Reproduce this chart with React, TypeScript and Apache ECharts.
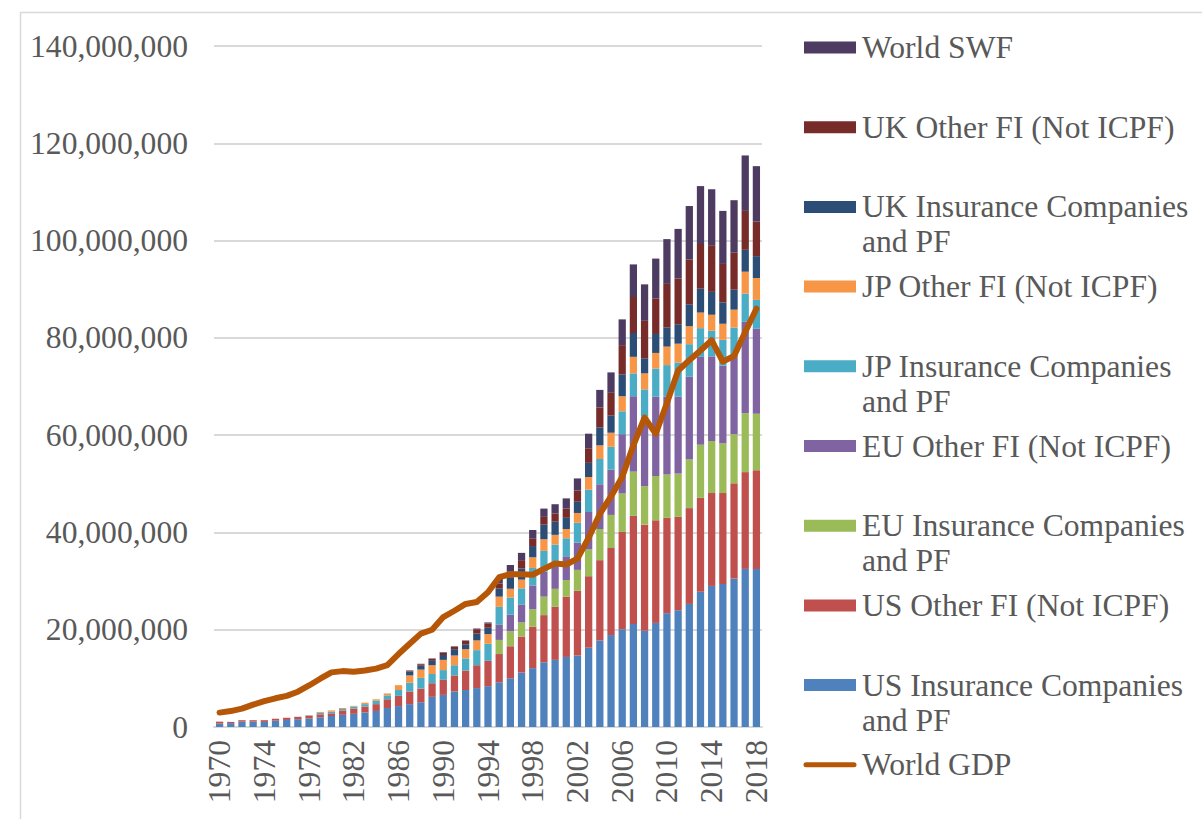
import React, { useEffect, useRef } from "react";
import * as echarts from "echarts";

const years = [
  "1970","1971","1972","1973","1974","1975","1976","1977","1978","1979",
  "1980","1981","1982","1983","1984","1985","1986","1987","1988","1989",
  "1990","1991","1992","1993","1994","1995","1996","1997","1998","1999",
  "2000","2001","2002","2003","2004","2005","2006","2007","2008","2009",
  "2010","2011","2012","2013","2014","2015","2016","2017","2018",
];

// values in millions (axis shows the full number)
const usIns = [0.7,0.8,1.1,1.1,1.05,1.3,1.45,1.6,1.75,2.0, 2.26,2.5,2.7,3.0,3.3,3.9,4.3,4.7,5.1,6.2, 6.6,7.3,7.6,8.0,8.4,9.2,10.0,11.2,12.1,13.3, 13.8,14.4,14.7,16.3,17.8,18.9,20.1,21.2,19.8,21.4, 23.4,24.0,25.3,27.8,29.0,29.4,30.5,32.5,32.5];
const usOther = [0.4,0.25,0.3,0.3,0.35,0.4,0.45,0.5,0.55,0.6, 0.55,0.86,1.07,1.2,1.4,1.8,2.1,2.6,2.8,2.8, 3.1,3.3,4.0,4.7,5.2,5.8,6.6,7.4,8.5,9.7, 10.9,12.4,13.3,14.7,16.5,17.9,20.0,22.2,21.8,21.1, 19.6,19.2,19.7,19.3,19.1,18.7,19.6,19.9,20.3];
const euIns = [0,0,0,0,0,0,0,0,0,0, 0,0,0,0,0,0,0,0,0,0, 0,0,0,0,0,2.9,3.1,2.9,3.6,3.8, 3.7,3.4,4.3,5.5,6.4,6.8,7.9,9.1,7.9,9.1, 8.9,8.9,10.0,10.9,10.7,10.2,10.1,12.1,11.6];
const euOther = [0,0,0,0,0,0,0,0,0,0, 0,0,0,0,0,0,0,0,0,0, 0,0,0,0,0,3.1,3.4,3.7,4.9,5.1, 5.5,4.9,5.6,7.7,9.2,9.3,12.2,15.5,14.3,16.3, 16.0,15.8,17.0,18.1,17.4,16.0,16.4,18.8,17.5];
const jpIns = [0,0,0,0,0,0,0,0,0.1,0.3, 0.35,0.34,0.43,0.5,0.7,0.8,1.2,1.8,2.2,1.9, 2.0,2.1,2.5,3.1,3.5,3.7,3.5,3.3,3.6,4.3, 3.6,3.7,4.1,4.6,5.2,4.7,4.7,4.7,5.6,5.8, 6.5,7.0,6.7,5.9,5.25,5.3,5.5,5.8,5.9];
const jpOther = [0,0,0,0,0,0,0,0,0.05,0.2, 0.25,0.2,0.15,0.3,0.3,0.4,1.0,1.5,1.7,1.8, 2.1,2.0,1.9,2.0,2.0,2.1,1.8,1.8,2.2,2.4, 2.0,1.9,2.0,2.6,2.8,2.9,3.1,3.4,3.3,3.2, 3.8,3.9,3.7,3.2,3.3,3.3,3.7,4.5,4.5];
const ukIns = [0,0,0,0,0,0,0,0,0,0, 0,0,0,0,0,0,0,0.8,0.8,0.9, 1.0,1.3,1.0,1.4,1.3,1.7,2.4,2.3,2.3,3.0, 2.7,2.3,2.3,2.9,3.7,3.5,4.5,4.9,3.1,3.9, 3.9,4.0,4.5,4.9,4.7,4.4,4.1,4.5,4.5];
const ukOther = [0,0,0,0,0,0,0,0,0,0, 0,0,0,0,0,0,0,0.2,0.3,0.4, 0.5,0.5,0.7,0.9,0.9,1.0,1.1,1.7,1.6,1.6, 1.7,1.9,2.3,3.0,4.1,4.7,6.0,7.4,7.7,7.3, 9.0,9.4,9.2,9.2,9.6,7.9,7.6,8.0,7.1];
const worldSwf = [0,0,0,0,0,0,0,0,0,0, 0,0,0,0,0,0,0,0.05,0.1,0.1, 0.1,0.1,0.1,0.15,0.2,1.1,1.4,1.5,1.7,1.7, 1.9,2.1,2.5,3.0,3.6,4.2,5.3,6.7,7.5,8.2, 9.2,10.2,11.0,11.9,11.5,10.9,10.8,11.4,11.4];
const worldGdp = [2.96,3.27,3.77,4.59,5.3,5.9,6.4,7.26,8.54,9.93, 11.23,11.49,11.36,11.6,12.0,12.7,15.0,17.1,19.2,20.0, 22.6,23.9,25.3,25.7,27.7,30.8,31.4,31.4,31.3,32.5, 33.6,33.4,34.6,38.9,43.8,47.4,51.4,57.9,63.6,60.3, 66.6,73.3,75.4,77.4,79.5,75.1,76.3,81.2,86.0];

const barNames = [
  "US Insurance Companies and PF",
  "US Other FI (Not ICPF)",
  "EU Insurance Companies and PF",
  "EU Other FI (Not ICPF)",
  "JP Insurance Companies and PF",
  "JP Other FI (Not ICPF)",
  "UK Insurance Companies and PF",
  "UK Other FI (Not ICPF)",
  "World SWF",
];
const barData = [usIns, usOther, euIns, euOther, jpIns, jpOther, ukIns, ukOther, worldSwf];
const barColors = ["#4f81bd", "#c0504d", "#9bbb59", "#8064a2", "#4bacc6", "#f79646", "#2c4d75", "#772c2a", "#4d3b62"];
const gdpName = "World GDP";
const gdpColor = "#b65708";

const legendLabels = [
  "World SWF",
  "UK Other FI (Not ICPF)",
  "UK Insurance Companies\nand PF",
  "JP Other FI (Not ICPF)",
  "JP Insurance Companies\nand PF",
  "EU Other FI (Not ICPF)",
  "EU Insurance Companies\nand PF",
  "US Other FI (Not ICPF)",
  "US Insurance Companies\nand PF",
  "World GDP",
];

const FONT = "'Liberation Serif', 'Times New Roman', serif";
const TEXT = "#595959";
const FS = 31.6;

export default function App() {
  const ref = useRef<HTMLDivElement>(null);
  useEffect(() => {
    if (!ref.current) return;
    const chart = echarts.init(ref.current, undefined, { renderer: "svg" });

    const legendColors = [...barColors].reverse();
    const graphics: any[] = [
      {
        type: "rect",
        shape: { x: 20.5, y: 12.5, width: 1400, height: 1000 },
        style: { fill: "none", stroke: "#d9d9d9", lineWidth: 1.5 },
        silent: true,
      },
    ];
    legendLabels.forEach((label, i) => {
      const yc = 47.5 + i * 79.7;
      if (i < 9) {
        graphics.push({
          type: "rect",
          shape: { x: 804, y: yc - 6, width: 52, height: 12 },
          style: { fill: legendColors[i] },
        });
      } else {
        graphics.push({
          type: "line",
          shape: { x1: 806, y1: yc, x2: 854, y2: yc },
          style: { stroke: gdpColor, lineWidth: 5, lineCap: "round" },
        });
      }
      graphics.push({
        type: "text",
        x: 862,
        y: yc - 17.5,
        style: {
          text: label,
          fontSize: FS,
          fontFamily: FONT,
          fill: TEXT,
          lineHeight: 35,
          verticalAlign: "top",
          align: "left",
        },
      });
    });

    const series: any[] = barData.map((d, i) => ({
      name: barNames[i],
      type: "bar",
      stack: "total",
      data: d,
      barCategoryGap: "35%",
      itemStyle: { color: barColors[i] },
    }));
    series.push({
      name: gdpName,
      type: "line",
      data: worldGdp,
      symbol: "none",
      z: 10,
      lineStyle: { color: gdpColor, width: 6, join: "round", cap: "round" },
      itemStyle: { color: gdpColor },
    });

    chart.setOption({
      animation: false,
      backgroundColor: "#ffffff",
      textStyle: { fontFamily: FONT },
      grid: { left: 214, right: 440, top: 46, bottom: 92, containLabel: false },
      xAxis: {
        type: "category",
        data: years,
        axisLine: { show: true, lineStyle: { color: "#d9d9d9", width: 2 } },
        axisTick: { show: false },
        axisLabel: {
          interval: 3,
          rotate: 90,
          margin: 13,
          fontSize: FS,
          fontFamily: FONT,
          color: TEXT,
        },
      },
      yAxis: {
        type: "value",
        min: 0,
        max: 140,
        interval: 20,
        axisLine: { show: false },
        axisTick: { show: false },
        splitLine: { lineStyle: { color: "#d9d9d9", width: 2 } },
        axisLabel: {
          margin: 26,
          fontSize: FS,
          fontFamily: FONT,
          color: TEXT,
          formatter: (v: number) => (v * 1000000).toLocaleString("en-US"),
        },
      },
      graphic: graphics,
      series,
    });
    return () => chart.dispose();
  }, []);
  return (
    <div
      ref={ref}
      style={{ position: "absolute", left: 0, top: 0, width: 1202, height: 819, background: "#fff" }}
    />
  );
}
